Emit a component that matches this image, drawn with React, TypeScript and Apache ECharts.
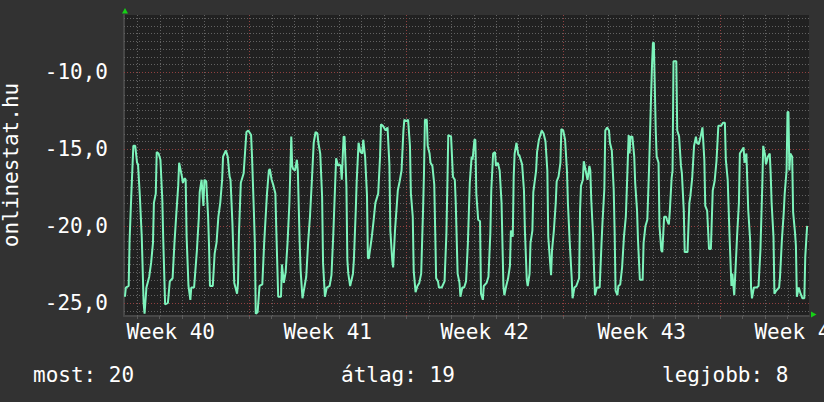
import React, { useEffect, useRef } from "react";
import * as echarts from "echarts";

// [hours since start of plotted period, value]
const part1: [number, number][] = [
  [1, -24.6], [2, -24.0], [5, -23.9], [6, -20.9], [8, -17.7], [10, -14.8], [12, -14.8], [14, -15.9], [15, -16.0],
  [17, -18.1], [19, -20.7], [21, -25.0], [22, -25.7], [24, -24.0], [27, -23.3], [29, -22.4], [31, -21.1], [32, -18.5],
  [34, -17.9], [35, -15.2], [37, -15.3], [39, -15.7], [41, -18.3], [42, -20.9], [44, -25.1], [47, -25.0], [49, -23.6],
  [52, -23.4], [54, -21.1], [56, -19.2], [58, -17.4], [59, -15.9], [61, -16.5], [62, -16.8], [63, -17.2], [65, -16.9],
  [66, -17.0], [67, -20.7], [69, -23.9], [71, -24.8], [72, -24.0], [75, -24.0], [78, -21.6], [80, -19.5], [81, -17.8],
  [83, -17.0], [85, -18.7], [86, -17.0], [88, -17.1], [90, -19.4], [91, -21.3], [92, -23.9], [95, -23.9], [97, -21.8],
  [99, -21.1], [101, -19.4], [103, -18.5], [105, -17.0], [106, -15.5], [109, -15.1], [111, -15.5], [113, -16.8],
  [114, -17.0], [116, -19.8], [118, -23.7], [121, -24.4], [122, -23.7], [123, -20.5],
];
const part2: [number, number][] = [
  [125, -17.2], [128, -16.6], [129, -15.7], [131, -13.9], [133, -13.8], [136, -14.1], [137, -15.5], [139, -19.1],
  [140, -21.1], [141, -25.7], [143, -25.6], [145, -23.9], [148, -23.8], [150, -21.1], [153, -17.9], [155, -16.4],
  [156, -16.3], [158, -17.0], [160, -17.4], [162, -17.9], [163, -20.3], [165, -24.6], [168, -24.6], [169, -22.5],
  [171, -23.7], [173, -23.0], [175, -21.1], [177, -18.5], [179, -14.2], [180, -16.1], [181, -16.3], [183, -16.4],
  [185, -15.7], [186, -16.4], [188, -21.1], [189, -22.9], [191, -24.7], [193, -24.0], [195, -23.3], [197, -21.1],
  [199, -19.4], [201, -17.1], [203, -14.6], [205, -13.9], [207, -14.0], [208, -14.6], [210, -15.3], [212, -18.1],
  [213, -22.4], [215, -24.6], [217, -24.0], [220, -23.9], [222, -23.2], [224, -20.5], [226, -17.2], [227, -15.6],
  [229, -16.1], [230, -16.0], [232, -16.1], [233, -17.0], [235, -14.2], [236, -14.2], [238, -17.4], [239, -22.2],
  [240, -23.1], [242, -23.9], [245, -23.1], [246, -22.2], [248, -19.0],
];
const part3: [number, number][] = [
  [249, -17.1], [251, -14.6], [253, -15.2], [255, -15.3], [256, -14.4], [258, -15.5], [260, -18.0], [261, -22.1],
  [262, -22.1], [265, -20.8], [267, -19.7], [269, -18.5], [272, -17.9], [274, -15.5], [275, -13.4], [277, -13.5],
  [280, -13.8], [282, -13.6], [284, -16.0], [285, -20.3], [287, -22.2], [288, -22.7], [290, -20.3], [293, -17.7],
  [295, -17.1], [297, -16.4], [299, -13.8], [300, -13.1], [302, -13.2], [304, -13.1], [306, -14.8], [307, -17.9],
  [309, -19.4], [310, -22.9], [312, -24.3], [314, -23.9], [316, -23.7], [318, -23.1], [320, -19.0], [321, -16.6],
  [322, -13.1], [324, -13.1], [325, -14.8], [327, -15.3], [328, -15.9], [330, -16.1], [332, -17.3], [333, -20.3],
  [334, -23.4], [336, -23.6], [337, -24.0], [340, -24.0], [343, -23.6], [345, -20.5], [346, -17.4], [347, -14.1],
  [350, -14.2], [352, -16.8], [354, -17.0], [355, -18.5], [357, -23.1], [359, -23.7], [360, -24.6], [362, -24.0],
  [364, -24.0], [366, -23.6], [368, -21.1], [370, -17.2], [372, -15.5],
];
const part4: [number, number][] = [
  [373, -15.7], [375, -14.4], [376, -14.4], [377, -17.9], [379, -19.6], [381, -19.7], [382, -24.4], [384, -24.8],
  [385, -23.9], [388, -23.7], [390, -23.3], [392, -20.5], [393, -17.7], [395, -15.3], [397, -15.2], [398, -16.1],
  [400, -15.9], [402, -16.4], [404, -18.5], [406, -23.9], [407, -24.5], [409, -23.9], [411, -23.4], [413, -22.6],
  [414, -20.3], [416, -20.7], [417, -16.8], [418, -15.3], [420, -14.6], [422, -15.4], [423, -15.4], [426, -16.0],
  [428, -17.7], [429, -20.3], [431, -23.5], [432, -23.9], [434, -23.1], [435, -21.1], [437, -20.3], [438, -17.8],
  [441, -16.4], [442, -15.2], [444, -14.4], [447, -13.8], [449, -14.0], [451, -14.5], [453, -16.4], [454, -20.7],
  [456, -22.4], [457, -23.2], [458, -21.6], [460, -20.3], [462, -18.5], [463, -17.1], [465, -16.8], [467, -15.9],
  [468, -13.7], [470, -13.8], [472, -14.4], [474, -16.4], [475, -18.5], [477, -21.1], [479, -23.3], [480, -24.7],
  [482, -24.0], [484, -23.9], [487, -23.4], [488, -19.0], [489, -17.4], [491, -17.0], [492, -15.8],
];
const part5: [number, number][] = [
  [494, -16.4], [496, -17.0], [498, -16.1], [499, -16.4], [500, -18.3], [502, -20.7], [503, -22.9], [504, -24.5],
  [506, -24.0], [509, -24.0], [511, -21.1], [512, -19.8], [514, -17.6], [515, -13.8], [517, -13.6], [519, -13.8],
  [520, -14.6], [522, -15.1], [524, -17.6], [525, -20.3], [526, -24.2], [528, -24.5], [529, -23.9], [531, -23.8],
  [533, -22.7], [535, -20.7], [537, -19.4], [538, -17.7], [540, -14.1], [541, -15.3], [542, -14.2], [544, -14.2],
  [546, -15.5], [547, -17.2], [549, -19.0], [550, -20.9], [552, -23.5], [555, -23.5], [556, -21.1], [558, -20.0],
  [560, -19.6], [562, -16.0], [564, -11.6], [565, -9.6], [566, -8.1], [567, -8.1], [569, -13.8], [570, -15.5],
  [572, -15.9], [573, -20.0], [575, -21.6], [576, -21.7], [578, -19.4], [580, -19.4], [581, -19.6], [583, -19.9],
  [584, -19.1], [586, -16.9], [587, -16.4], [588, -9.3], [591, -9.3], [592, -13.8], [594, -14.2], [596, -16.1],
  [597, -16.6], [599, -19.0], [600, -21.7], [603, -21.7], [605, -18.5], [606, -18.1], [608, -16.9], [610, -14.8],
  [612, -14.2], [613, -14.6], [615, -14.7], [617, -14.2], [619, -13.6],
];
const part6: [number, number][] = [
  [621, -15.7], [622, -18.7], [624, -19.0], [626, -21.5], [628, -21.5], [630, -17.7], [632, -17.1], [634, -15.8],
  [636, -13.5], [639, -13.5], [641, -13.3], [643, -13.3], [644, -15.7], [646, -17.0], [648, -20.7], [650, -23.9],
  [651, -23.1], [653, -24.5], [655, -22.0], [656, -20.7], [658, -18.5], [659, -15.3], [661, -15.1], [663, -14.9],
  [664, -15.9], [666, -15.3], [668, -19.0], [670, -20.9], [671, -24.0], [672, -24.7], [674, -24.0], [677, -24.0],
  [679, -23.9], [681, -21.6], [683, -17.4], [684, -14.8], [686, -15.4], [687, -16.0], [689, -15.5], [691, -15.3],
  [692, -16.6], [693, -18.5], [695, -20.7], [696, -24.4], [698, -24.2], [701, -24.0], [702, -23.3], [704, -20.9],
  [706, -19.1], [707, -17.9], [709, -16.4], [710, -12.6], [711, -12.6], [712, -16.4], [713, -15.3], [715, -15.5],
  [716, -19.1], [718, -20.4], [719, -21.3], [720, -24.6], [722, -24.0], [724, -24.4], [726, -24.7], [728, -24.7],
  [729, -22.0], [731, -20.0],
];

const weekLabels = ["Week 40", "Week 41", "Week 42", "Week 43", "Week 44"];
const weekLabelHours = [50, 218, 386, 554, 722];
const weekStartHours = [134, 302, 470, 638];
const firstDayHour = 14;
const yTickValues = [-25, -20, -15, -10];
const summaryTexts = ["most: 20", "átlag: 19", "legjobb: 8"];
const axisTitle = "onlinestat.hu";

const X_MAX = 733;
const Y_MIN = -25.85;
const Y_MAX = -6.3;
const FONT = '"DejaVu Sans Mono", monospace';

export default function App() {
  const ref = useRef<HTMLDivElement>(null);
  useEffect(() => {
    if (!ref.current) return;
    const chart = echarts.init(ref.current, null, { renderer: "svg" });
    const series = [...part1, ...part2, ...part3, ...part4, ...part5, ...part6];

    const allDays: number[] = [];
    for (let h = firstDayHour; h < X_MAX; h += 24) allDays.push(h);
    const minorDays = allDays.filter((h) => !weekStartHours.includes(h));
    const minorH: number[] = [];
    const majorH: number[] = [];
    for (let k = -51; k <= -13; k++) {
      const v = k / 2;
      if (v % 5 === 0) majorH.push(v);
      else minorH.push(v);
    }

    const vLine = (color: string) => (params: any, api: any) => {
      const cs = params.coordSys;
      const x = Math.round(api.coord([api.value(0), Y_MIN])[0]) + 0.5;
      return {
        type: "line",
        silent: true,
        shape: { x1: x, y1: cs.y, x2: x, y2: cs.y + cs.height },
        style: { stroke: color, lineWidth: 1, lineDash: [1, 2] },
      };
    };
    const hLine = (color: string) => (params: any, api: any) => {
      const cs = params.coordSys;
      const y = Math.round(api.coord([0, api.value(1)])[1]) + 0.5;
      return {
        type: "line",
        silent: true,
        shape: { x1: cs.x, y1: y, x2: cs.x + cs.width, y2: y },
        style: { stroke: color, lineWidth: 1, lineDash: [1, 2] },
      };
    };

    const minorColor = "#626262";
    const majorColor = "#904040";

    chart.setOption({
      animation: false,
      backgroundColor: "#323232",
      grid: {
        left: 124,
        right: 15,
        top: 15,
        bottom: 86,
        show: true,
        backgroundColor: "#212121",
        borderWidth: 0,
        containLabel: false,
        outerBoundsMode: "none",
      },
      xAxis: {
        type: "value",
        min: 0,
        max: X_MAX,
        splitLine: { show: false },
        axisLine: { show: true, onZero: false, lineStyle: { color: "#474747", width: 2 } },
        axisTick: { show: true, customValues: allDays, length: 3, lineStyle: { color: "#5c5c5c" } },
        axisLabel: {
          customValues: weekLabelHours,
          formatter: (v: number) => {
            const i = weekLabelHours.indexOf(v);
            return i >= 0 ? weekLabels[i] : "";
          },
          color: "#ffffff",
          fontFamily: FONT,
          fontSize: 21,
          margin: 5,
        },
      },
      yAxis: {
        type: "value",
        min: Y_MIN,
        max: Y_MAX,
        splitLine: { show: false },
        axisLine: { show: true, onZero: false, lineStyle: { color: "#474747", width: 2 } },
        axisTick: { show: false },
        axisLabel: {
          customValues: yTickValues,
          formatter: (v: number) => v.toFixed(1).replace(".", ","),
          color: "#ffffff",
          fontFamily: FONT,
          fontSize: 21,
          margin: 16,
        },
      },
      series: [
        { type: "custom", silent: true, z: 1, renderItem: vLine(minorColor), data: minorDays.map((h) => [h, Y_MIN]) },
        { type: "custom", silent: true, z: 1, renderItem: hLine(minorColor), data: minorH.map((v) => [0, v]) },
        { type: "custom", silent: true, z: 1, renderItem: vLine(majorColor), data: weekStartHours.map((h) => [h, Y_MIN]) },
        { type: "custom", silent: true, z: 1, renderItem: hLine(majorColor), data: majorH.map((v) => [0, v]) },
        {
          type: "line",
          silent: true,
          z: 3,
          data: series,
          showSymbol: false,
          symbol: "none",
          lineStyle: { color: "#7df3bb", width: 2 },
        },
      ],
      graphic: [
        {
          type: "text",
          x: 11,
          y: 165,
          rotation: Math.PI / 2,
          style: { text: axisTitle, fill: "#ffffff", font: `21px ${FONT}`, align: "center", verticalAlign: "middle" },
        },
        {
          type: "text",
          x: 33,
          y: 375,
          style: { text: summaryTexts[0], fill: "#ffffff", font: `21px ${FONT}`, align: "left", verticalAlign: "middle" },
        },
        {
          type: "text",
          x: 341,
          y: 375,
          style: { text: summaryTexts[1], fill: "#ffffff", font: `21px ${FONT}`, align: "left", verticalAlign: "middle" },
        },
        {
          type: "text",
          x: 662,
          y: 375,
          style: { text: summaryTexts[2], fill: "#ffffff", font: `21px ${FONT}`, align: "left", verticalAlign: "middle" },
        },
        {
          type: "polygon",
          shape: { points: [[122, 13.5], [128, 13.5], [125, 8]] },
          style: { fill: "#16d016" },
        },
        {
          type: "polygon",
          shape: { points: [[811, 311.5], [811, 317.5], [816.5, 314.5]] },
          style: { fill: "#16d016" },
        },
      ],
    });
    return () => chart.dispose();
  }, []);
  return (
    <div
      ref={ref}
      style={{ position: "fixed", left: 0, top: 0, width: 824, height: 402 }}
    />
  );
}
